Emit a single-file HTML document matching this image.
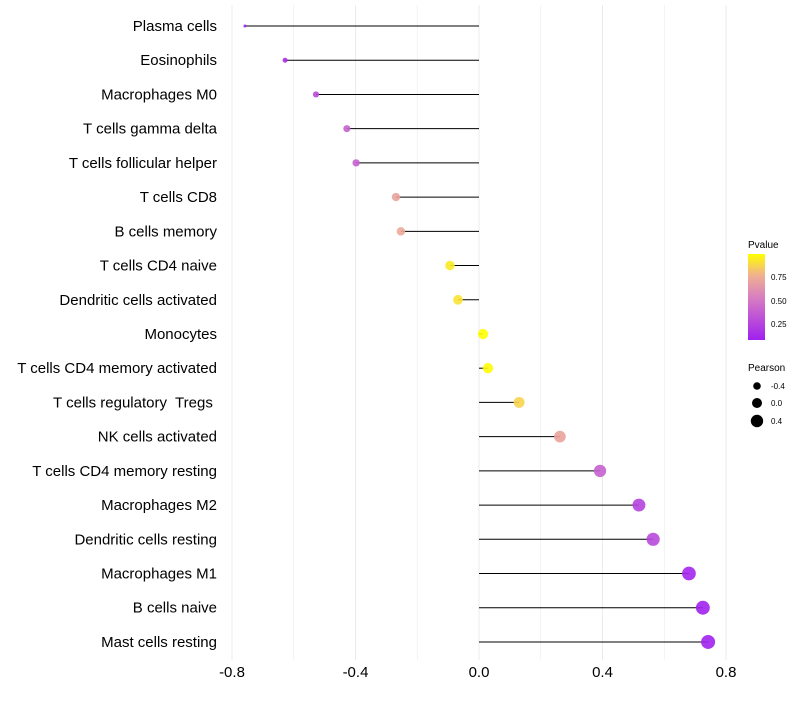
<!DOCTYPE html>
<html><head><meta charset="utf-8"><style>
body{margin:0;background:#fff;font-family:"Liberation Sans",sans-serif}
svg text{font-family:"Liberation Sans",sans-serif;white-space:pre}
</style></head><body>
<svg id="chart" width="800" height="700">
<defs><linearGradient id="pg" x1="0" y1="1" x2="0" y2="0">
<stop offset="0" stop-color="#a020f0"/><stop offset="0.5" stop-color="#d87fc0"/><stop offset="0.75" stop-color="#f0b090"/><stop offset="1" stop-color="#ffff00"/></linearGradient></defs>
<g id="grid"></g>
<g id="marks"></g>
<g id="ylab"></g>
<g id="xlab"></g>
<g>
<text x="748" y="248" font-size="10">Pvalue</text>
<rect x="748" y="254" width="17" height="86" fill="url(#pg)"/>
<text x="771" y="280" font-size="8">0.75</text>
<text x="771" y="304" font-size="8">0.50</text>
<text x="771" y="327" font-size="8">0.25</text>
</g>
<g>
<text x="748" y="371" font-size="10">Pearson</text>
<circle cx="757" cy="386" r="3.8" fill="#000"/>
<text x="771" y="389" font-size="8">-0.4</text>
<circle cx="757" cy="403" r="5" fill="#000"/>
<text x="771" y="406" font-size="8">0.0</text>
<circle cx="757" cy="421" r="6.2" fill="#000"/>
<text x="771" y="424" font-size="8">0.4</text>
</g>
</svg>
<script>
const categories=["Plasma cells","Eosinophils","Macrophages M0","T cells gamma delta","T cells follicular helper","T cells CD8","B cells memory","T cells CD4 naive","Dendritic cells activated","Monocytes","T cells CD4 memory activated","T cells regulatory  Tregs ","NK cells activated","T cells CD4 memory resting","Macrophages M2","Dendritic cells resting","Macrophages M1","B cells naive","Mast cells resting"];
const pearson=[-0.758,-0.628,-0.528,-0.428,-0.398,-0.269,-0.253,-0.094,-0.068,0.013,0.029,0.13,0.262,0.392,0.518,0.564,0.68,0.725,0.742];
const pvalue=[0.05,0.15,0.3,0.4,0.4,0.7,0.72,0.92,0.9,0.98,0.97,0.86,0.7,0.4,0.25,0.28,0.12,0.1,0.1];
const xTicks=[-0.8,-0.4,0,0.4,0.8];
const xTickLabels=["-0.8","-0.4","0.0","0.4","0.8"];
const NS="http://www.w3.org/2000/svg";
const x=v=>479+v*308.75;
const y=i=>26+i*34.22;
function mk(t,a,p){const e=document.createElementNS(NS,t);for(const k in a)e.setAttribute(k,a[k]);p.appendChild(e);return e;}
function lerp(a,b,t){return a.map((v,i)=>Math.round(v+(b[i]-v)*t));}
function col(p){const stops=[[0,[160,32,240]],[0.5,[216,127,192]],[0.75,[240,176,144]],[1,[255,255,0]]];
 const t=(p-0.09)/(0.98-0.09);const c=Math.max(0,Math.min(1,t));
 for(let i=1;i<stops.length;i++){if(c<=stops[i][0]){const s=stops[i-1],e=stops[i];const r=lerp(s[1],e[1],(c-s[0])/(e[0]-s[0]));return `rgb(${r})`;}}
 return "rgb(255,255,0)";}
const mn=Math.min(...pearson),mx=Math.max(...pearson);
const rad=v=>Math.sqrt(2.25+(v-mn)/(mx-mn)*46.75);
const grid=document.getElementById('grid'),marks=document.getElementById('marks'),yl=document.getElementById('ylab'),xl=document.getElementById('xlab');
for(let v=-0.8;v<=0.801;v+=0.2){const l=mk('line',{x1:x(v),x2:x(v),y1:5,y2:660,stroke:"#ebebeb","stroke-width":Math.abs(Math.round(v*10))%4===0?1:0.6},grid);

}
categories.forEach((c,i)=>{
 const s=mk('line',{x1:x(0),x2:x(pearson[i]),y1:y(i),y2:y(i),stroke:"#000","stroke-width":1},marks);
 
 
 const d=mk('circle',{cx:x(pearson[i]),cy:y(i),r:rad(pearson[i]),fill:col(pvalue[i]),"fill-opacity":0.9},marks);
 
 
 const t=mk('text',{x:217,y:y(i)+5,"text-anchor":"end","font-size":15,fill:"#000"},yl);t.textContent=c;
 
 
});
xTicks.forEach((v,i)=>{const t=mk('text',{x:x(v),y:677,"text-anchor":"middle","font-size":15,fill:"#000"},xl);t.textContent=xTickLabels[i];
 
 });
</script>
</body></html>
